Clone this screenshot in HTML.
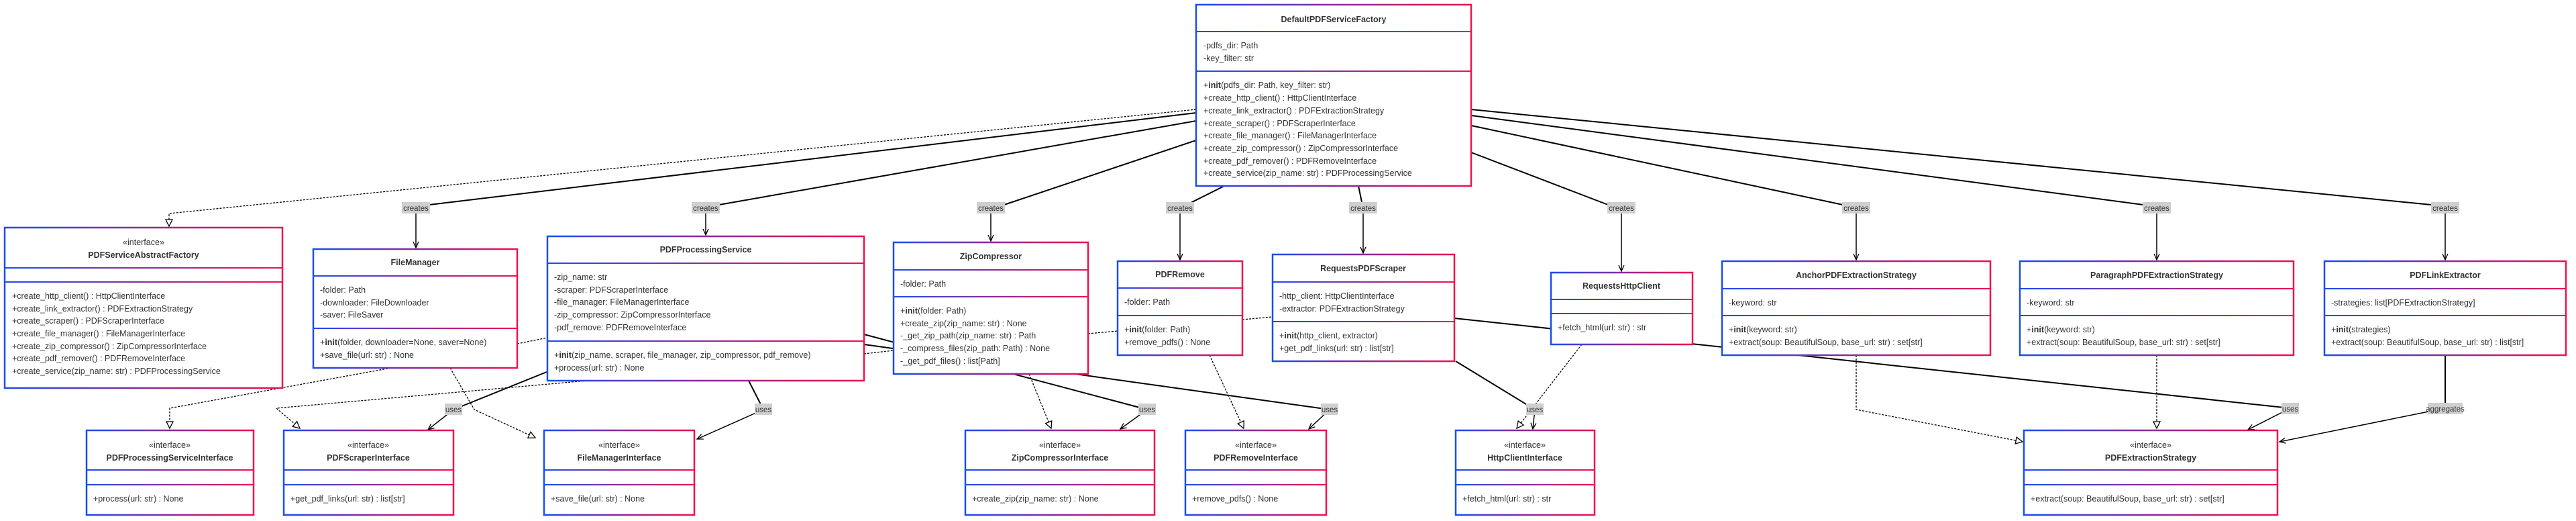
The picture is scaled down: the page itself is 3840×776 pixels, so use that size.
<!DOCTYPE html>
<html><head><meta charset="utf-8"><style>
html,body{margin:0;padding:0;background:#fff;}
svg{display:block;}
text{font-family:"Liberation Sans",Arial,sans-serif;font-size:12.5px;fill:#333;}
.t{font-weight:bold;text-anchor:middle;}
.s{text-anchor:middle;}
.l{font-size:11.5px;text-anchor:middle;fill:#333;}
.e{fill:none;stroke:#000;stroke-width:2;}
.d{fill:none;stroke:#000;stroke-width:1.3;stroke-dasharray:3,2;}
.v{fill:none;stroke:#000;stroke-width:1.5;}
.lb{fill:#cfcfcf;}
.b{fill:#fff;stroke:url(#g);stroke-width:2.5;}
.dv{fill:url(#g);}
</style></head><body>
<svg width="3840" height="776" viewBox="0 0 3840 776" xmlns="http://www.w3.org/2000/svg">
<defs>
<linearGradient id="g" x1="0" y1="0" x2="1" y2="0">
<stop offset="0" stop-color="#1a4cf0"/><stop offset="0.5" stop-color="#8a2a9a"/><stop offset="1" stop-color="#f0104d"/>
</linearGradient>
<marker id="arr" markerWidth="12" markerHeight="12" refX="10" refY="5" orient="auto" markerUnits="userSpaceOnUse">
<path d="M1,1 L10,5 L1,9" fill="none" stroke="#000" stroke-width="1.3"/></marker>
<marker id="tri" markerWidth="14" markerHeight="14" refX="11" refY="6" orient="auto" markerUnits="userSpaceOnUse">
<path d="M1,1 L11,6 L1,11 Z" fill="#fff" stroke="#000" stroke-width="1.3"/></marker>
</defs>

<!-- creates edges -->
<path class="d" d="M1783,163 L252,318 L252,337" marker-end="url(#tri)"/>
<path class="e" d="M1783,168 L640,305"/><path class="v" d="M620,318 L620,369" marker-end="url(#arr)"/>
<path class="e" d="M1783,180 L1072,305"/><path class="v" d="M1052,318 L1052,350" marker-end="url(#arr)"/>
<path class="e" d="M1783,209 L1497,305"/><path class="v" d="M1477,318 L1477,359" marker-end="url(#arr)"/>
<path class="e" d="M1825,277 L1775,302"/><path class="v" d="M1759,318 L1759,387" marker-end="url(#arr)"/>
<path class="e" d="M2025,277 L2030,301"/><path class="v" d="M2032,318 L2032,377" marker-end="url(#arr)"/>
<path class="e" d="M2193,227 L2397,305"/><path class="v" d="M2417,318 L2417,404" marker-end="url(#arr)"/>
<path class="e" d="M2193,187 L2747,305"/><path class="v" d="M2767,318 L2767,387" marker-end="url(#arr)"/>
<path class="e" d="M2193,172 L3195,305"/><path class="v" d="M3215,318 L3215,387" marker-end="url(#arr)"/>
<path class="e" d="M2193,163 L3624,305"/><path class="v" d="M3645,318 L3645,387" marker-end="url(#arr)"/>

<!-- lower edges -->
<path class="d" d="M583,548 L253,608 L253,638" marker-end="url(#tri)"/>
<path class="d" d="M875,567 L412,608 L447,638" marker-end="url(#tri)"/>
<path class="e" d="M815,554 L676,610"/><path class="v" d="M676,610 L638,640" marker-end="url(#arr)"/>
<path class="d" d="M671,548 L707,610 L798,652" marker-end="url(#tri)"/>
<path class="e" d="M1116,567 L1138,610"/><path class="v" d="M1138,610 L1039,654" marker-end="url(#arr)"/>
<path class="d" d="M771,512 L816,503"/>
<path class="d" d="M1288,527 L1332,522"/>
<path class="d" d="M1622,497 L1666,493"/>
<path class="d" d="M1852,476 L1897,472"/>
<path class="e" d="M1288,498 L1710,610"/><path class="v" d="M1710,610 L1670,639" marker-end="url(#arr)"/>
<path class="e" d="M1288,513 L1982,610"/><path class="v" d="M1982,610 L1951,639" marker-end="url(#arr)"/>
<path class="d" d="M1534,557 L1567,638" marker-end="url(#tri)"/>
<path class="d" d="M1803,529 L1854,638" marker-end="url(#tri)"/>
<path class="e" d="M2168,474 L3414,608"/><path class="v" d="M3414,608 L3351,640" marker-end="url(#arr)"/>
<path class="e" d="M2170,538 L2288,610"/><path class="v" d="M2288,610 L2285,639" marker-end="url(#arr)"/>
<path class="d" d="M2358,513 L2261,638" marker-end="url(#tri)"/>
<path class="d" d="M2767,529 L2767,610 L3015,658" marker-end="url(#tri)"/>
<path class="d" d="M3215,529 L3215,638" marker-end="url(#tri)"/>
<path class="e" d="M3645,529 L3645,608"/><path class="v" d="M3645,608 L3398,658" marker-end="url(#arr)"/>

<!-- labels -->
<rect class="lb" x="599" y="301" width="42" height="17"/><text class="l" x="620" y="314">creates</text>
<rect class="lb" x="1031" y="301" width="42" height="17"/><text class="l" x="1052" y="314">creates</text>
<rect class="lb" x="1456" y="301" width="42" height="17"/><text class="l" x="1477" y="314">creates</text>
<rect class="lb" x="1738" y="301" width="42" height="17"/><text class="l" x="1759" y="314">creates</text>
<rect class="lb" x="2011" y="301" width="42" height="17"/><text class="l" x="2032" y="314">creates</text>
<rect class="lb" x="2396" y="301" width="42" height="17"/><text class="l" x="2417" y="314">creates</text>
<rect class="lb" x="2746" y="301" width="42" height="17"/><text class="l" x="2767" y="314">creates</text>
<rect class="lb" x="3194" y="301" width="42" height="17"/><text class="l" x="3215" y="314">creates</text>
<rect class="lb" x="3624" y="301" width="42" height="17"/><text class="l" x="3645" y="314">creates</text>
<rect class="lb" x="663" y="601" width="26" height="17"/><text class="l" x="676" y="614">uses</text>
<rect class="lb" x="1125" y="601" width="26" height="17"/><text class="l" x="1138" y="614">uses</text>
<rect class="lb" x="1697" y="601" width="26" height="17"/><text class="l" x="1710" y="614">uses</text>
<rect class="lb" x="1969" y="601" width="26" height="17"/><text class="l" x="1982" y="614">uses</text>
<rect class="lb" x="2275" y="601" width="26" height="17"/><text class="l" x="2288" y="614">uses</text>
<rect class="lb" x="3401" y="600" width="26" height="17"/><text class="l" x="3414" y="613">uses</text>
<rect class="lb" x="3619" y="600" width="52" height="17"/><text class="l" x="3645" y="613">aggregates</text>

<!-- DefaultPDFServiceFactory -->
<rect class="b" x="1783" y="7" width="410" height="270"/>
<rect class="dv" x="1783" y="46" width="410" height="2"/><rect class="dv" x="1783" y="105" width="410" height="2"/>
<text class="t" x="1988" y="33">DefaultPDFServiceFactory</text>
<text x="1794" y="72">-pdfs_dir: Path</text><text x="1794" y="91">-key_filter: str</text>
<text x="1794" y="131">+<tspan font-weight="bold">init</tspan>(pdfs_dir: Path, key_filter: str)</text>
<text x="1794" y="150">+create_http_client() : HttpClientInterface</text>
<text x="1794" y="169">+create_link_extractor() : PDFExtractionStrategy</text>
<text x="1794" y="188">+create_scraper() : PDFScraperInterface</text>
<text x="1794" y="206">+create_file_manager() : FileManagerInterface</text>
<text x="1794" y="225">+create_zip_compressor() : ZipCompressorInterface</text>
<text x="1794" y="244">+create_pdf_remover() : PDFRemoveInterface</text>
<text x="1794" y="262">+create_service(zip_name: str) : PDFProcessingService</text>

<!-- PDFServiceAbstractFactory -->
<rect class="b" x="7" y="339" width="414" height="239"/>
<rect class="dv" x="7" y="398" width="414" height="2"/><rect class="dv" x="7" y="419" width="414" height="2"/>
<text class="s" x="214" y="365">«interface»</text><text class="t" x="214" y="384">PDFServiceAbstractFactory</text>
<text x="18" y="445">+create_http_client() : HttpClientInterface</text>
<text x="18" y="464">+create_link_extractor() : PDFExtractionStrategy</text>
<text x="18" y="482">+create_scraper() : PDFScraperInterface</text>
<text x="18" y="501">+create_file_manager() : FileManagerInterface</text>
<text x="18" y="520">+create_zip_compressor() : ZipCompressorInterface</text>
<text x="18" y="538">+create_pdf_remover() : PDFRemoveInterface</text>
<text x="18" y="557">+create_service(zip_name: str) : PDFProcessingService</text>

<!-- FileManager -->
<rect class="b" x="467" y="371" width="304" height="177"/>
<rect class="dv" x="467" y="410" width="304" height="2"/><rect class="dv" x="467" y="488" width="304" height="2"/>
<text class="t" x="619" y="395">FileManager</text>
<text x="477" y="436">-folder: Path</text><text x="477" y="455">-downloader: FileDownloader</text><text x="477" y="473">-saver: FileSaver</text>
<text x="477" y="514">+<tspan font-weight="bold">init</tspan>(folder, downloader=None, saver=None)</text>
<text x="477" y="533">+save_file(url: str) : None</text>

<!-- PDFProcessingService -->
<rect class="b" x="816" y="352" width="472" height="215"/>
<rect class="dv" x="816" y="391" width="472" height="2"/><rect class="dv" x="816" y="507" width="472" height="2"/>
<text class="t" x="1052" y="376">PDFProcessingService</text>
<text x="826" y="417">-zip_name: str</text><text x="826" y="436">-scraper: PDFScraperInterface</text>
<text x="826" y="454">-file_manager: FileManagerInterface</text><text x="826" y="473">-zip_compressor: ZipCompressorInterface</text>
<text x="826" y="492">-pdf_remove: PDFRemoveInterface</text>
<text x="826" y="533">+<tspan font-weight="bold">init</tspan>(zip_name, scraper, file_manager, zip_compressor, pdf_remove)</text>
<text x="826" y="552">+process(url: str) : None</text>

<!-- ZipCompressor -->
<rect class="b" x="1332" y="361" width="290" height="196"/>
<rect class="dv" x="1332" y="401" width="290" height="2"/><rect class="dv" x="1332" y="441" width="290" height="2"/>
<text class="t" x="1477" y="386">ZipCompressor</text>
<text x="1342" y="427">-folder: Path</text>
<text x="1342" y="467">+<tspan font-weight="bold">init</tspan>(folder: Path)</text>
<text x="1342" y="486">+create_zip(zip_name: str) : None</text>
<text x="1342" y="504">-_get_zip_path(zip_name: str) : Path</text>
<text x="1342" y="523">-_compress_files(zip_path: Path) : None</text>
<text x="1342" y="542">-_get_pdf_files() : list[Path]</text>

<!-- PDFRemove -->
<rect class="b" x="1666" y="389" width="186" height="140"/>
<rect class="dv" x="1666" y="428" width="186" height="2"/><rect class="dv" x="1666" y="469" width="186" height="2"/>
<text class="t" x="1759" y="413">PDFRemove</text>
<text x="1676" y="454">-folder: Path</text>
<text x="1676" y="495">+<tspan font-weight="bold">init</tspan>(folder: Path)</text>
<text x="1676" y="514">+remove_pdfs() : None</text>

<!-- RequestsPDFScraper -->
<rect class="b" x="1897" y="379" width="271" height="159"/>
<rect class="dv" x="1897" y="419" width="271" height="2"/><rect class="dv" x="1897" y="478" width="271" height="2"/>
<text class="t" x="2032" y="404">RequestsPDFScraper</text>
<text x="1907" y="445">-http_client: HttpClientInterface</text><text x="1907" y="464">-extractor: PDFExtractionStrategy</text>
<text x="1907" y="504">+<tspan font-weight="bold">init</tspan>(http_client, extractor)</text>
<text x="1907" y="523">+get_pdf_links(url: str) : list[str]</text>

<!-- RequestsHttpClient -->
<rect class="b" x="2312" y="406" width="211" height="107"/>
<rect class="dv" x="2312" y="445" width="211" height="2"/><rect class="dv" x="2312" y="466" width="211" height="2"/>
<text class="t" x="2417" y="430">RequestsHttpClient</text>
<text x="2322" y="492">+fetch_html(url: str) : str</text>

<!-- Anchor -->
<rect class="b" x="2567" y="389" width="400" height="140"/>
<rect class="dv" x="2567" y="429" width="400" height="2"/><rect class="dv" x="2567" y="469" width="400" height="2"/>
<text class="t" x="2767" y="414">AnchorPDFExtractionStrategy</text>
<text x="2577" y="455">-keyword: str</text>
<text x="2577" y="495">+<tspan font-weight="bold">init</tspan>(keyword: str)</text>
<text x="2577" y="514">+extract(soup: BeautifulSoup, base_url: str) : set[str]</text>

<!-- Paragraph -->
<rect class="b" x="3011" y="389" width="408" height="140"/>
<rect class="dv" x="3011" y="429" width="408" height="2"/><rect class="dv" x="3011" y="469" width="408" height="2"/>
<text class="t" x="3215" y="414">ParagraphPDFExtractionStrategy</text>
<text x="3021" y="455">-keyword: str</text>
<text x="3021" y="495">+<tspan font-weight="bold">init</tspan>(keyword: str)</text>
<text x="3021" y="514">+extract(soup: BeautifulSoup, base_url: str) : set[str]</text>

<!-- PDFLinkExtractor -->
<rect class="b" x="3465" y="389" width="360" height="140"/>
<rect class="dv" x="3465" y="429" width="360" height="2"/><rect class="dv" x="3465" y="469" width="360" height="2"/>
<text class="t" x="3645" y="414">PDFLinkExtractor</text>
<text x="3475" y="455">-strategies: list[PDFExtractionStrategy]</text>
<text x="3475" y="495">+<tspan font-weight="bold">init</tspan>(strategies)</text>
<text x="3475" y="514">+extract(soup: BeautifulSoup, base_url: str) : list[str]</text>

<!-- Interfaces -->
<rect class="b" x="129" y="641" width="249" height="126"/>
<rect class="dv" x="129" y="699" width="249" height="2"/><rect class="dv" x="129" y="721" width="249" height="2"/>
<text class="s" x="253" y="667">«interface»</text><text class="t" x="253" y="686">PDFProcessingServiceInterface</text>
<text x="139" y="747">+process(url: str) : None</text>

<rect class="b" x="423" y="641" width="253" height="126"/>
<rect class="dv" x="423" y="699" width="253" height="2"/><rect class="dv" x="423" y="721" width="253" height="2"/>
<text class="s" x="549" y="667">«interface»</text><text class="t" x="549" y="686">PDFScraperInterface</text>
<text x="433" y="747">+get_pdf_links(url: str) : list[str]</text>

<rect class="b" x="811" y="641" width="224" height="126"/>
<rect class="dv" x="811" y="699" width="224" height="2"/><rect class="dv" x="811" y="721" width="224" height="2"/>
<text class="s" x="923" y="667">«interface»</text><text class="t" x="923" y="686">FileManagerInterface</text>
<text x="821" y="747">+save_file(url: str) : None</text>

<rect class="b" x="1439" y="641" width="282" height="126"/>
<rect class="dv" x="1439" y="699" width="282" height="2"/><rect class="dv" x="1439" y="721" width="282" height="2"/>
<text class="s" x="1580" y="667">«interface»</text><text class="t" x="1580" y="686">ZipCompressorInterface</text>
<text x="1449" y="747">+create_zip(zip_name: str) : None</text>

<rect class="b" x="1767" y="641" width="210" height="126"/>
<rect class="dv" x="1767" y="699" width="210" height="2"/><rect class="dv" x="1767" y="721" width="210" height="2"/>
<text class="s" x="1872" y="667">«interface»</text><text class="t" x="1872" y="686">PDFRemoveInterface</text>
<text x="1777" y="747">+remove_pdfs() : None</text>

<rect class="b" x="2170" y="641" width="207" height="126"/>
<rect class="dv" x="2170" y="699" width="207" height="2"/><rect class="dv" x="2170" y="721" width="207" height="2"/>
<text class="s" x="2273" y="667">«interface»</text><text class="t" x="2273" y="686">HttpClientInterface</text>
<text x="2180" y="747">+fetch_html(url: str) : str</text>

<rect class="b" x="3017" y="641" width="378" height="126"/>
<rect class="dv" x="3017" y="699" width="378" height="2"/><rect class="dv" x="3017" y="721" width="378" height="2"/>
<text class="s" x="3206" y="667">«interface»</text><text class="t" x="3206" y="686">PDFExtractionStrategy</text>
<text x="3027" y="747">+extract(soup: BeautifulSoup, base_url: str) : set[str]</text>
</svg>
</body></html>
